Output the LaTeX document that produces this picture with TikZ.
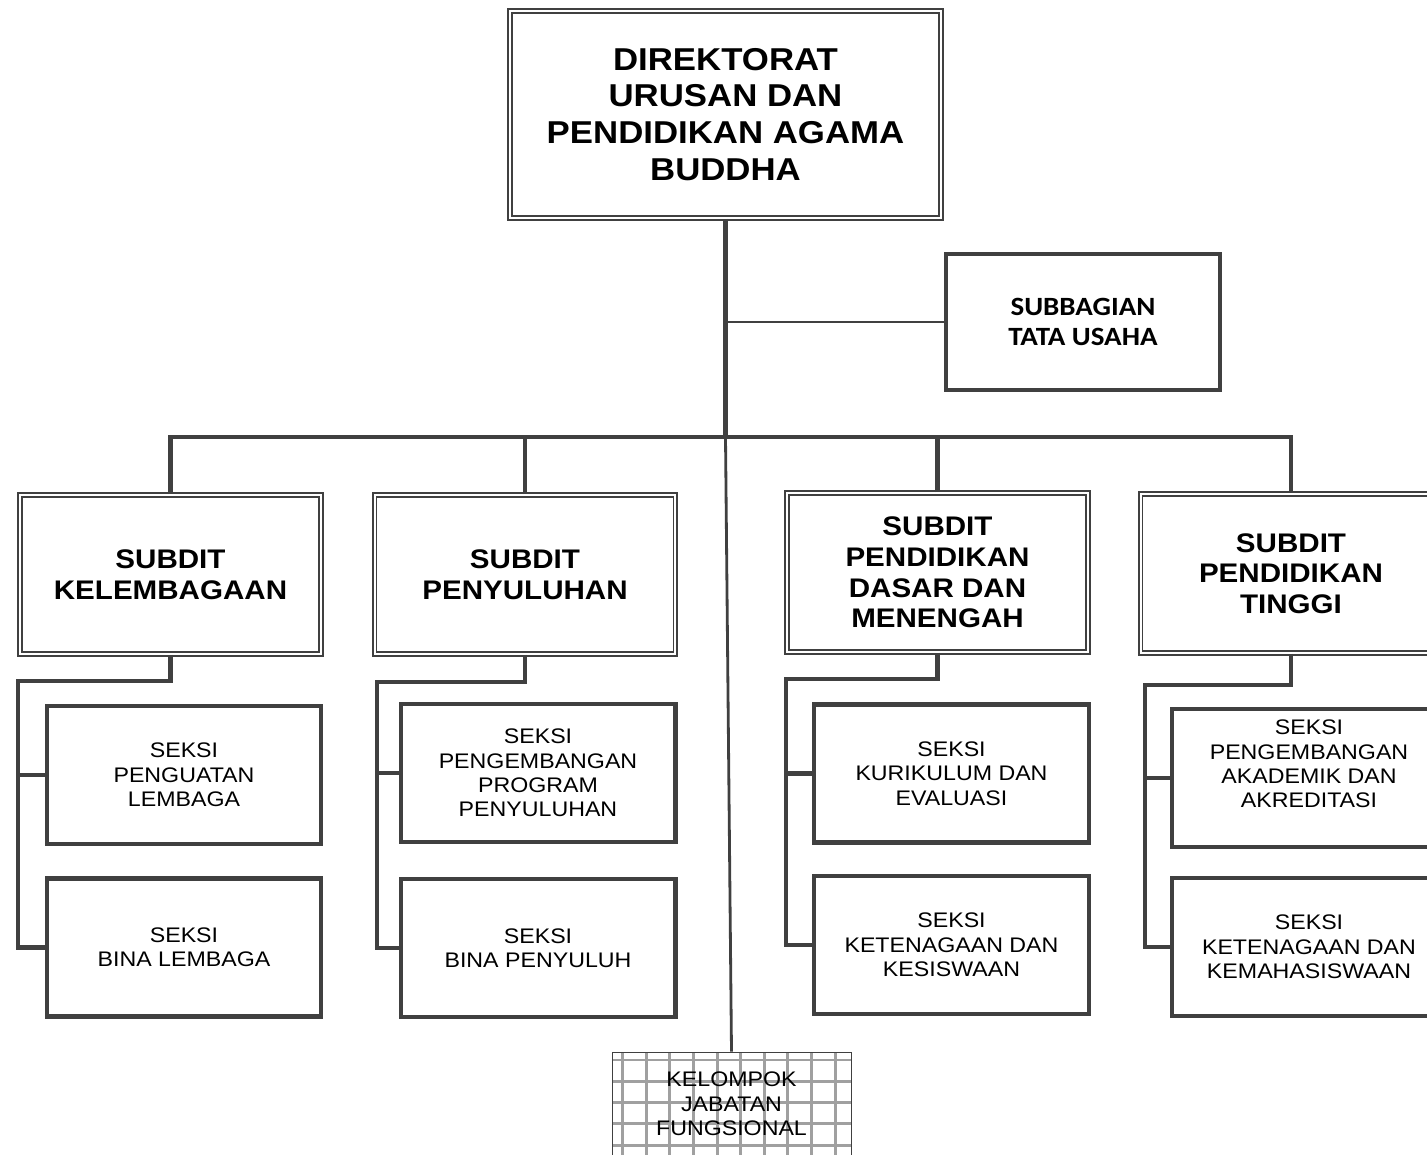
\documentclass[tikz,border=0pt]{standalone}
\usepackage{fontspec}
\setmainfont{Liberation Sans}[FakeStretch=1.1]
\newfontfamily\tufont{Carlito}[FakeStretch=1.1]
\usepackage{tikz}

\definecolor{linegray}{HTML}{404040}
\definecolor{gridgray}{HTML}{A0A0A0}

\tikzset{
  conn/.style={draw=linegray, line width=2.3pt},
  thinconn/.style={draw=linegray, line width=1.1pt},
  midconn/.style={draw=linegray, line width=1.6pt},
  frame/.style={draw=linegray, double=white, double distance=0.04cm, line width=1.1pt,
    inner sep=0pt, align=center, text=black},
  dirbox/.style={frame, minimum width=8.62cm, minimum height=4.14cm,
    font=\bfseries\fontsize{18}{21}\selectfont},
  subditbox/.style={frame, minimum width=6.02cm, minimum height=3.18cm,
    font=\bfseries\fontsize{15.3}{17.4}\selectfont},
  seksitext/.style={align=center, text=black, font=\fontsize{12}{13.9}\selectfont},
  seksibox/.style={seksitext, draw=linegray, line width=2.3pt, inner sep=0pt,
    minimum width=5.5cm, minimum height=2.76cm},
  tubox/.style={draw=linegray, line width=2.3pt, inner sep=0pt, align=center,
    minimum width=5.48cm, minimum height=2.72cm,
    font=\tufont\bfseries\fontsize{15}{17.1}\selectfont},
  kjfbox/.style={seksitext, draw=linegray, line width=0.5pt, inner sep=0pt,
    minimum width=4.78cm, minimum height=2.08cm},
  gridline/.style={draw=gridgray, line width=1.7pt},
}

\begin{document}
\begin{tikzpicture}[x=0.02cm, y=-0.02cm]
  \useasboundingbox (0,0) rectangle (1427,1155);
  \clip (0,0) rectangle (1427,1155);

  % Top of the chart
  \node[dirbox] (dir) at (725.5,114.5) {DIREKTORAT\\URUSAN DAN\\PENDIDIKAN AGAMA\\BUDDHA};
  \node[tubox] (tu) at (1083,322) {SUBBAGIAN\\TATA USAHA};

  % Subdit boxes
  \node[subditbox] (kel) at (170.5,574.5) {SUBDIT\\KELEMBAGAAN};
  \node[subditbox] (pny) at (525,574.5) {SUBDIT\\PENYULUHAN};
  \node[subditbox] (dasar) at (937.5,572.5) {SUBDIT\\PENDIDIKAN\\DASAR DAN\\MENENGAH};
  \node[subditbox] (tinggi) at (1291,573.5) {SUBDIT\\PENDIDIKAN\\TINGGI};

  % Seksi boxes
  \node[seksibox] (spl) at (184,775) {SEKSI\\PENGUATAN\\LEMBAGA};
  \node[seksibox] (sbl) at (184,947.5) {SEKSI\\BINA LEMBAGA};
  \node[seksibox] (spp) at (538,773) {SEKSI\\PENGEMBANGAN\\PROGRAM\\PENYULUHAN};
  \node[seksibox] (sbp) at (538,948) {SEKSI\\BINA PENYULUH};
  \node[seksibox] (skur) at (951.5,773.5) {SEKSI\\KURIKULUM DAN\\EVALUASI};
  \node[seksibox] (skes) at (951.5,945) {SEKSI\\KETENAGAAN DAN\\KESISWAAN};
  \node[seksibox, label={[seksitext, yshift=0.28cm]center:{SEKSI\\PENGEMBANGAN\\AKADEMIK DAN\\AKREDITASI}}]
    (sakd) at (1309,778) {};
  \node[seksibox] (skem) at (1309,947) {SEKSI\\KETENAGAAN DAN\\KEMAHASISWAAN};

  % Kelompok jabatan fungsional, grid filled
  \foreach \i in {0,...,9}
    \draw[gridline] (622.7+23.6*\i,1052) -- (622.7+23.6*\i,1156);
  \foreach \j in {0,...,4}
    \draw[gridline] (612,1060+21.3*\j) -- (851,1060+21.3*\j);
  \node[kjfbox] (kjf) at (731.5,1104) {KELOMPOK\\JABATAN\\FUNGSIONAL};

  % Main trunk and bar
  \coordinate (bar) at (725.5,437);
  \draw[conn] (dir.south) -- (bar);
  \draw[thinconn] (dir.south |- tu.west) -- (tu.west);
  \draw[conn] (kel.north) |- (bar) -| (tinggi.north);
  \draw[conn] (pny.north) -- (pny.north |- bar);
  \draw[conn] (dasar.north) -- (dasar.north |- bar);
  \draw[midconn] (bar) -- (kjf.north);

  % Subdit to seksi
  \foreach \sub/\hx/\hy/\up/\down in {kel/18/681/spl/sbl, pny/377/682/spp/sbp,
      dasar/786/679/skur/skes, tinggi/1145/685/sakd/skem} {
    \coordinate (hook) at (\hx,\hy);
    \draw[conn] (\sub.south) |- (hook) |- (\down.west);
    \draw[conn] (hook |- \up.west) -- (\up.west);
  }
\end{tikzpicture}
\end{document}
